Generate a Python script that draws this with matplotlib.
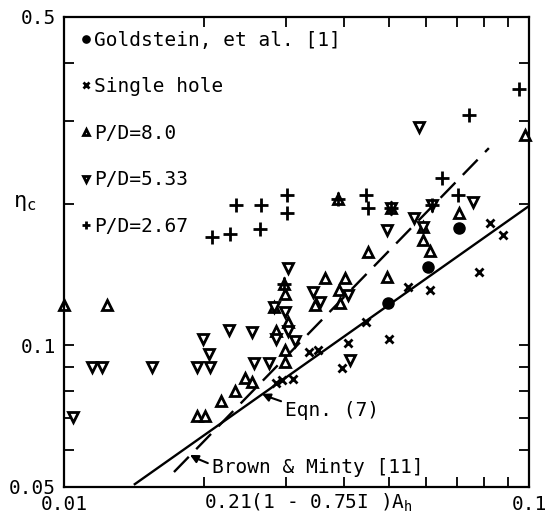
import matplotlib
matplotlib.use("Agg")
import matplotlib.pyplot as plt
from matplotlib.ticker import NullFormatter

plt.rcParams['font.family'] = ['DejaVu Sans Mono']
plt.rcParams['mathtext.fontset'] = 'custom'
plt.rcParams['mathtext.rm'] = 'DejaVu Sans Mono'
plt.rcParams['mathtext.it'] = 'DejaVu Sans Mono'

# Goldstein, et al. [1]
gold_x = [0.0707, 0.0607, 0.0498]
gold_y = [0.178, 0.147, 0.123]

# single hole
single_x = [0.0824, 0.0879, 0.0781, 0.0612, 0.0550, 0.0446, 0.0500, 0.0408,
            0.0352, 0.0337, 0.0396, 0.0311, 0.0294, 0.0286]
single_y = [0.182, 0.172, 0.143, 0.131, 0.133, 0.112, 0.103, 0.101,
            0.0978, 0.0968, 0.0895, 0.0849, 0.0845, 0.0833]

# P/D = 8.0
pd8_x = [0.0100, 0.0124, 0.0193, 0.0201, 0.0218, 0.0233, 0.0245, 0.0254,
         0.0451, 0.0364, 0.0402, 0.0495, 0.0390, 0.0707, 0.0612, 0.0592,
         0.0299, 0.0347, 0.0299, 0.0299, 0.098, 0.0392, 0.0283, 0.0297,
         0.0388, 0.0505, 0.0592, 0.0286, 0.0303]
pd8_y = [0.122, 0.122, 0.0708, 0.0708, 0.0762, 0.080, 0.0853, 0.0836,
         0.158, 0.139, 0.139, 0.140, 0.131, 0.191, 0.159, 0.168,
         0.129, 0.122, 0.0978, 0.0922, 0.280, 0.123, 0.121, 0.135,
         0.205, 0.196, 0.179, 0.1074, 0.112]

# P/D = 5.33
pd533_x = [0.01046, 0.0115, 0.0121, 0.0155, 0.0193, 0.0206, 0.0205, 0.0199,
           0.0226, 0.0254, 0.0256, 0.0276, 0.0303, 0.0495, 0.0566, 0.0758,
           0.0580, 0.0408, 0.0343, 0.0355, 0.0299, 0.0314, 0.0412, 0.0618,
           0.0283, 0.0505, 0.0592, 0.0286, 0.0303]
pd533_y = [0.0704, 0.090, 0.090, 0.090, 0.090, 0.090, 0.0959, 0.103,
           0.108, 0.107, 0.0918, 0.0918, 0.146, 0.176, 0.187, 0.202,
           0.292, 0.128, 0.130, 0.124, 0.118, 0.102, 0.0931, 0.199,
           0.121, 0.196, 0.179, 0.1033, 0.1074]

# P/D = 2.67
pd267_x = [0.0208, 0.0228, 0.0234, 0.0265, 0.0264, 0.0302, 0.0302, 0.0388,
           0.0446, 0.0451, 0.0505, 0.0650, 0.0703, 0.0743, 0.0952, 0.0297,
           0.0618]
pd267_y = [0.170, 0.173, 0.199, 0.199, 0.177, 0.209, 0.191, 0.205,
           0.209, 0.196, 0.196, 0.227, 0.209, 0.309, 0.351, 0.135,
           0.199]

# correlation lines (end points)
eqn7_x = [0.0142, 0.1]
eqn7_y = [0.0507, 0.198]
brown_x = [0.01724, 0.0820]
brown_y = [0.0538, 0.263]

eqn7_arrow = (0.02666, 0.0789)
eqn7_text = (0.0299, 0.0729)
brown_arrow = (0.01866, 0.0585)
brown_text = (0.0208, 0.0549)

fig = plt.figure(figsize=(5.47, 5.19), dpi=100)
ax = fig.add_axes([0.117, 0.0617, 0.850, 0.9056])
ax.set_xscale('log')
ax.set_yscale('log')
ax.set_xlim(0.01, 0.1)
ax.set_ylim(0.05, 0.5)

ax.plot(eqn7_x, eqn7_y, color='black', lw=1.7)
ax.plot(brown_x, brown_y, color='black', lw=1.7, dashes=(9, 4.5))

ax.plot(gold_x, gold_y, 'o', color='black', ms=8, label='Goldstein, et al. [1]')
ax.plot(single_x, single_y, 'x', color='black', ms=6, mew=2, label='Single hole')
ax.plot(pd8_x, pd8_y, '^', color='black', mfc='white', ms=6.5, mew=2,
        label='P/D=8.0', clip_on=False)
ax.plot(pd533_x, pd533_y, 'v', color='black', mfc='white', ms=6.5, mew=2,
        label='P/D=5.33')
ax.plot(pd267_x, pd267_y, '+', color='black', ms=9.5, mew=2, label='P/D=2.67')

ax.annotate('Eqn. (7)', xy=eqn7_arrow, xytext=eqn7_text, fontsize=14,
            va='center', ha='left',
            arrowprops=dict(arrowstyle='-|>', color='black', lw=1.5,
                            mutation_scale=12, shrinkA=1, shrinkB=0,
                            connectionstyle='arc3,rad=-0.1'))
ax.annotate('Brown & Minty [11]', xy=brown_arrow, xytext=brown_text, fontsize=14,
            va='center', ha='left',
            arrowprops=dict(arrowstyle='-|>', color='black', lw=1.5,
                            mutation_scale=12, shrinkA=1, shrinkB=0,
                            connectionstyle='arc3,rad=-0.2'))

leg = ax.legend(loc='upper left', bbox_to_anchor=(0.01, 1.0), frameon=False,
                handlelength=0.4, handletextpad=0.2, labelspacing=1.42,
                markerscale=0.65, fontsize=14, borderaxespad=0.3)

ax.set_xticks([0.01, 0.1], labels=['0.01', '0.1'])
ax.set_xticks([0.02, 0.03, 0.04, 0.05, 0.06, 0.07, 0.08, 0.09], minor=True)
ax.set_yticks([0.05, 0.1, 0.5], labels=['0.05', '0.1', '0.5'])
ax.set_yticks([0.06, 0.07, 0.08, 0.09, 0.2, 0.3, 0.4], minor=True)
ax.xaxis.set_minor_formatter(NullFormatter())
ax.yaxis.set_minor_formatter(NullFormatter())
ax.tick_params(which='both', direction='in', top=True, right=True,
               length=7, width=1.3, labelsize=14, pad=6)
for s in ax.spines.values():
    s.set_linewidth(1.6)

ax.text(0.525, -0.034, r'0.21(1 - 0.75I )A$_\mathrm{h}$', transform=ax.transAxes,
        ha='center', va='center', fontsize=14)
ax.text(-0.085, 0.605, r'$\eta_\mathrm{c}$', transform=ax.transAxes,
        ha='center', va='center', fontsize=16)

fig.savefig('out.png', dpi=100)
